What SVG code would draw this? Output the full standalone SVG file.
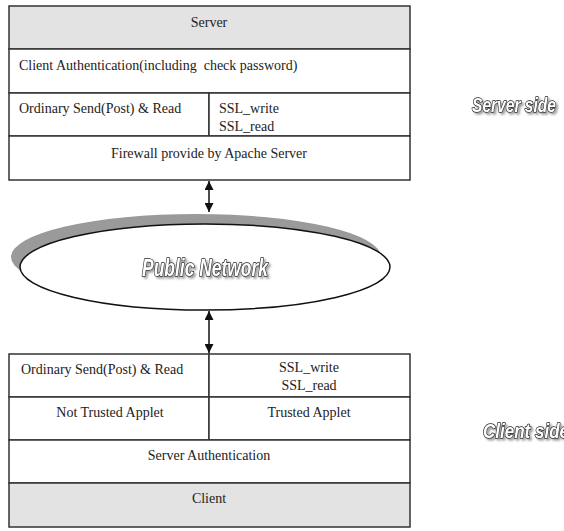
<svg xmlns="http://www.w3.org/2000/svg" width="564" height="531" viewBox="0 0 564 531">
<style>
.cell{fill:#fff;stroke:#333;stroke-width:1.5}
.head{fill:#e3e3e3;stroke:#333;stroke-width:1.5}
.t{font-family:"Liberation Serif","Times New Roman",serif;font-size:14px;fill:#222;white-space:pre}
.c{text-anchor:middle}
.side{font-family:"Liberation Sans",Arial,sans-serif;font-weight:bold;font-style:italic;fill:#fff;stroke:#222;stroke-width:1.6;stroke-linejoin:round;paint-order:stroke;filter:url(#ds)}
.ln{stroke:#111;stroke-width:1.5;fill:none}
</style>
<defs>
<marker id="ah" viewBox="0 0 10 10" refX="10" refY="5" markerWidth="9" markerHeight="9" markerUnits="userSpaceOnUse" orient="auto-start-reverse">
<path d="M0,0 L10,5 L0,10 Z" fill="#111"/>
</marker>
<filter id="ds" x="-10%" y="-30%" width="130%" height="170%">
<feDropShadow dx="2" dy="2" stdDeviation="1" flood-color="#888" flood-opacity="0.8"/>
</filter>
</defs>
<g id="server">
<rect class="head" x="9" y="6" width="401" height="43"/>
<text class="t c" x="209" y="27">Server</text>
<rect class="cell" x="9" y="49" width="401" height="44"/>
<text class="t" x="19" y="70">Client Authentication(including  check password)</text>
<rect class="cell" x="9" y="93" width="200" height="43"/>
<text class="t" x="19" y="113">Ordinary Send(Post) &amp; Read</text>
<rect class="cell" x="209" y="93" width="201" height="43"/>
<text class="t" x="219" y="113">SSL_write</text>
<text class="t" x="219" y="131">SSL_read</text>
<rect class="cell" x="9" y="136" width="401" height="44"/>
<text class="t c" x="209" y="158">Firewall provide by Apache Server</text>
</g>
<g id="server-side">
<text class="side" x="472" y="112" font-size="21" textLength="84" lengthAdjust="spacingAndGlyphs">Server side</text>
</g>
<g id="network">
<ellipse cx="196" cy="257" rx="185" ry="43" fill="#9a9a9a"/>
<ellipse cx="205" cy="267" rx="185" ry="43" fill="#fff" stroke="#111" stroke-width="1.5"/>
<text class="side" x="205" y="276" font-size="24" text-anchor="middle" textLength="126" lengthAdjust="spacingAndGlyphs">Public Network</text>
</g>
<g id="client">
<rect class="cell" x="9" y="354" width="200" height="43"/>
<text class="t" x="21" y="374">Ordinary Send(Post) &amp; Read</text>
<rect class="cell" x="209" y="354" width="201" height="43"/>
<text class="t c" x="309" y="372">SSL_write</text>
<text class="t c" x="309" y="390">SSL_read</text>
<rect class="cell" x="9" y="397" width="200" height="43"/>
<text class="t c" x="110" y="417">Not Trusted Applet</text>
<rect class="cell" x="209" y="397" width="201" height="43"/>
<text class="t c" x="309" y="417">Trusted Applet</text>
<rect class="cell" x="9" y="440" width="401" height="43"/>
<text class="t c" x="209" y="460">Server Authentication</text>
<rect class="head" x="9" y="483" width="401" height="44"/>
<text class="t c" x="209" y="503">Client</text>
</g>
<g id="client-side">
<text class="side" x="483" y="438" font-size="21" textLength="86" lengthAdjust="spacingAndGlyphs">Client side</text>
</g>
<g id="connectors">
<line class="ln" x1="209" y1="181" x2="209" y2="212" marker-start="url(#ah)" marker-end="url(#ah)"/>
<line class="ln" x1="209" y1="311" x2="209" y2="353" marker-start="url(#ah)" marker-end="url(#ah)"/>
</g>
</svg>
